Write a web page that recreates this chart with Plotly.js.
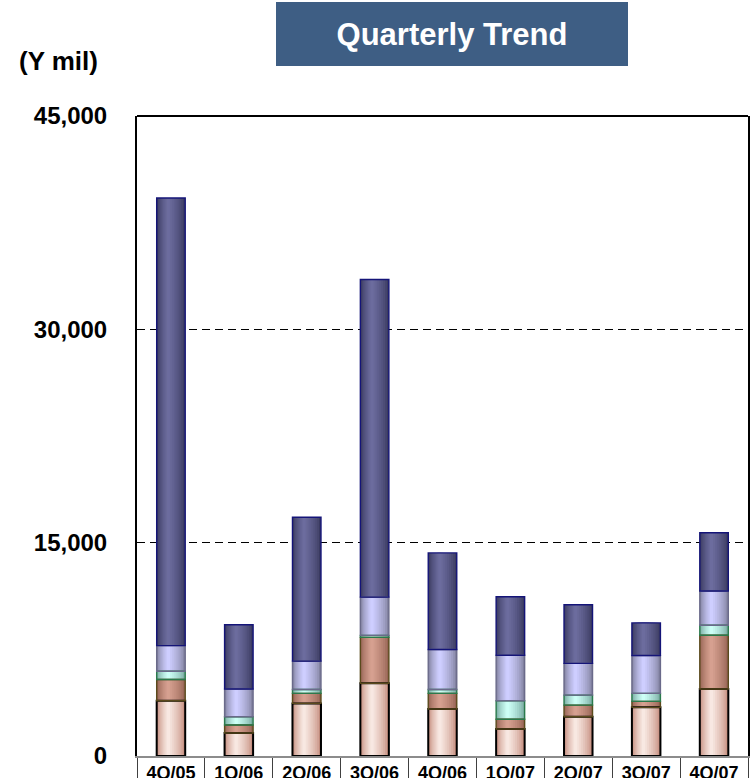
<!DOCTYPE html>
<html>
<head>
<meta charset="utf-8">
<script src="https://cdn.plot.ly/plotly-3.0.1.min.js"></script>
<style>
  html, body { margin: 0; padding: 0; background: #fff; overflow: hidden; }
  #wrap { width: 752px; height: 778px; overflow: hidden; }
  #chart { width: 752px; height: 800px; }
</style>
</head>
<body>
<div id="wrap"><div id="chart"></div></div>
<script>
// Quarterly figures, Y million, stacked from the bottom segment up
const quarters = ['4Q/05', '1Q/06', '2Q/06', '3Q/06', '4Q/06', '1Q/07', '2Q/07', '3Q/07', '4Q/07'];
const tier1 = [3880, 1620, 3700, 5110, 3300, 1900, 2760, 3420, 4710];
const tier2 = [1500, 560, 700, 3230, 1100, 680, 820, 420, 3780];
const tier3 = [580, 580, 280, 140, 280, 1310, 700, 560, 700];
const tier4 = [1800, 1950, 1990, 2690, 2810, 3190, 2230, 2670, 2410];
const tier5 = [31470, 4520, 10120, 22330, 6790, 4120, 4120, 2290, 4100];
const yTicks = [0, 15000, 30000, 45000];

const series = [tier1, tier2, tier3, tier4, tier5];

// Cylinder-like shading: edge colour, highlight colour, outline colour
const looks = [
  { edge: [196, 140, 124], mid: [248, 232, 226], line: '#000000', lw: 2 },
  { edge: [150, 100, 84],  mid: [214, 160, 144], line: '#5a4a1c', lw: 1.4 },
  { edge: [120, 170, 160], mid: [204, 255, 246], line: '#2a7a4c', lw: 1.4 },
  { edge: [130, 130, 160], mid: [206, 206, 255], line: '#6a6a8a', lw: 1.4 },
  { edge: [58, 58, 96],    mid: [108, 108, 158], line: '#141478', lw: 1.4 }
];

const BAR_W = 0.42;
const STEPS = 9;

function mix(a, b, t) {
  const c = a.map((v, i) => Math.round(v + (b[i] - v) * t));
  return 'rgb(' + c.join(',') + ')';
}

const traces = [];
let base = quarters.map(() => 0);

series.forEach((vals, si) => {
  const look = looks[si];
  const segBase = base.slice();
  for (let k = 0; k < STEPS; k++) {
    const t = k / (STEPS - 1);
    const w = BAR_W * (1 - k / STEPS);
    const centre = -0.09 * BAR_W * t;
    traces.push({
      type: 'bar',
      x: quarters,
      y: vals,
      base: segBase,
      width: w,
      offset: centre - w / 2,
      marker: { color: mix(look.edge, look.mid, Math.pow(t, 0.7)), line: { width: 0 } },
      hoverinfo: 'skip',
      showlegend: false
    });
  }
  base = base.map((b, i) => b + vals[i]);
});

// outlines on top of the shading
base = quarters.map(() => 0);
series.forEach((vals, si) => {
  const look = looks[si];
  traces.push({
    type: 'bar',
    x: quarters,
    y: vals,
    base: base.slice(),
    width: BAR_W,
    offset: -BAR_W / 2,
    marker: { color: 'rgba(0,0,0,0)', line: { color: look.line, width: look.lw } },
    hoverinfo: 'skip',
    showlegend: false
  });
  base = base.map((b, i) => b + vals[i]);
});

const FONT = 'Liberation Sans, Arial, sans-serif';

const layout = {
  width: 752,
  height: 800,
  margin: { l: 137, r: 4, t: 116, b: 44 },
  paper_bgcolor: '#ffffff',
  plot_bgcolor: '#ffffff',
  barmode: 'overlay',
  showlegend: false,
  font: { family: FONT, color: '#000' },
  xaxis: {
    type: 'category',
    range: [-0.5, quarters.length - 0.5],
    tickson: 'boundaries',
    ticks: 'outside',
    ticklen: 30,
    tickwidth: 1,
    tickcolor: '#404040',
    showline: true,
    linecolor: '#8c8c8c',
    linewidth: 2,
    showgrid: false,
    zeroline: false,
    ticklabelstandoff: -1,
    tickfont: { family: FONT, size: 18, weight: 'bold', color: '#000' },
    fixedrange: true
  },
  yaxis: {
    range: [0, 45000],
    tickvals: yTicks,
    tickformat: ',d',
    showline: true,
    mirror: true,
    linecolor: '#000',
    linewidth: 2,
    showgrid: true,
    gridcolor: '#000',
    gridwidth: 1,
    griddash: '8px,5px',
    zeroline: false,
    ticks: '',
    ticklabelstandoff: 23,
    tickfont: { family: FONT, size: 24, weight: 'bold', color: '#000' },
    fixedrange: true
  },
  shapes: [
    { type: 'line', xref: 'paper', yref: 'paper', x0: 0, x1: 1, y0: 1, y1: 1,
      line: { color: '#000', width: 2 }, layer: 'above' }
  ],
  annotations: [
    {
      text: 'Quarterly Trend',
      xref: 'paper', yref: 'paper',
      x: 0.5155, y: 1.1281, xanchor: 'center', yanchor: 'middle',
      width: 352, height: 64,
      bgcolor: '#3e5e84', borderpad: 0, borderwidth: 0,
      showarrow: false,
      font: { family: FONT, size: 31, weight: 'bold', color: '#ffffff' }
    },
    {
      text: '(Y mil)',
      xref: 'paper', yref: 'paper',
      x: -0.1277, y: 1.086, xanchor: 'center', yanchor: 'middle',
      showarrow: false,
      font: { family: FONT, size: 26, weight: 'bold', color: '#000' }
    }
  ]
};

Plotly.newPlot('chart', traces, layout, { displayModeBar: false, staticPlot: true });
</script>
</body>
</html>
